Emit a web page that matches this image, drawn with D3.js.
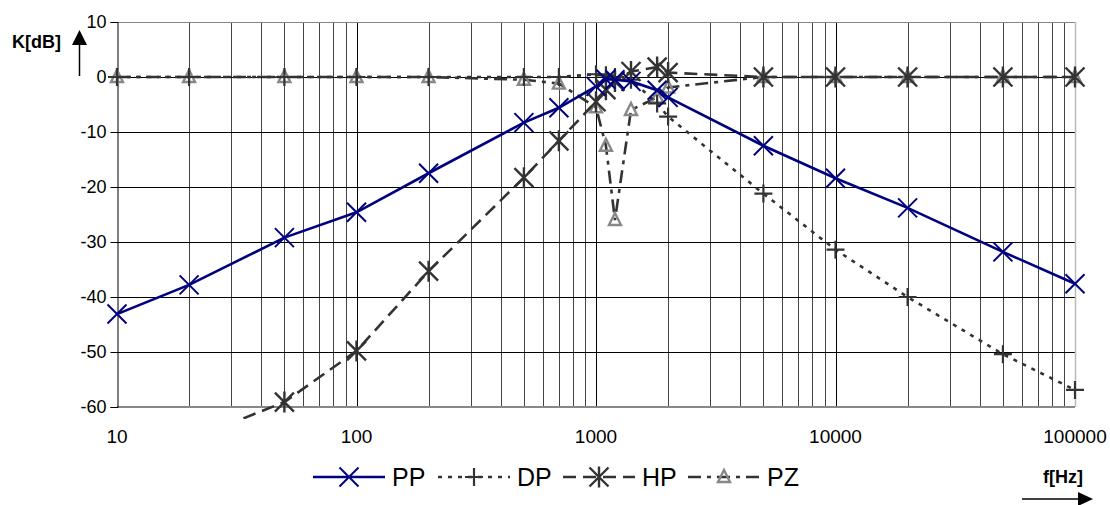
<!DOCTYPE html>
<html>
<head>
<meta charset="utf-8">
<script src="https://cdn.jsdelivr.net/npm/d3@7"></script>
<style>
    body { margin: 0; background: #fff; }
    text { font-family: Arial, "Liberation Sans", sans-serif; }
</style>
</head>
<body>
<div id="chartDiv"></div>
<script>
const freqs = [10, 20, 50, 100, 200, 500, 700, 1000, 1100, 1200, 1400, 1800, 2000, 5000, 10000, 20000, 50000, 100000];
const PP = [-43.1, -37.8, -29.2, -24.6, -17.5, -8.3, -5.6, -1.7, -0.4, -0.5, -0.8, -2.4, -3.7, -12.5, -18.4, -23.8, -31.8, -37.6];
const DP = [0, 0, 0, 0, 0, 0, 0, 0.5, 0.3, 0, -0.5, -4.8, -7.2, -21.2, -31.4, -40, -50.4, -56.9];
const HP = [-79, -66, -59.1, -49.8, -35.3, -18.3, -11.6, -4.5, -2.3, -0.8, 1.0, 1.8, 0.8, 0, 0, 0, 0, 0];
const PZ = [0, 0, 0, 0, 0, -0.5, -1.2, -5.5, -12.5, -26, -6, -3.7, -1.9, 0, 0, 0, 0, 0];
const seriesNames = ["PP", "DP", "HP", "PZ"];
const xTicks = [10, 100, 1000, 10000, 100000];
const yTicks = [10, 0, -10, -20, -30, -40, -50, -60];

const width = 1110, height = 505;
const margin = {top: 22, right: 35, bottom: 98, left: 117};

const svg = d3.select("#chartDiv").append("svg")
    .attr("width", width)
    .attr("height", height);

const x = d3.scaleLog()
    .domain([10, 100000])
    .range([margin.left, width - margin.right]);

const y = d3.scaleLinear()
    .domain([-60, 10])
    .range([height - margin.bottom, margin.top]);

const x0 = x.range()[0], x1 = x.range()[1];
const yTop = y(10), yBot = y(-60);

// minor + major vertical grid
let minor = [];
for (let d = 10; d < 100000; d *= 10) {
    for (let k = 2; k < 10; k++) minor.push(d * k);
}
svg.append("g").selectAll("line")
    .data(minor)
    .enter().append("line")
    .attr("x1", d => Math.round(x(d)) + 0.5).attr("x2", d => Math.round(x(d)) + 0.5)
    .attr("y1", yTop).attr("y2", yBot)
    .attr("stroke", "#444").attr("stroke-width", 1);

svg.append("g").selectAll("line")
    .data(xTicks.slice(1, -1))
    .enter().append("line")
    .attr("x1", d => Math.round(x(d)) + 0.5).attr("x2", d => Math.round(x(d)) + 0.5)
    .attr("y1", yTop).attr("y2", yBot)
    .attr("stroke", "#000").attr("stroke-width", 1);

// horizontal grid
svg.append("g").selectAll("line")
    .data(yTicks.filter(d => d !== 10 && d !== -60))
    .enter().append("line")
    .attr("x1", x0).attr("x2", x1)
    .attr("y1", d => Math.round(y(d)) + 0.5).attr("y2", d => Math.round(y(d)) + 0.5)
    .attr("stroke", "#000").attr("stroke-width", 1);

// frame
svg.append("line").attr("x1", x0).attr("x2", x1).attr("y1", yTop + 0.5).attr("y2", yTop + 0.5)
    .attr("stroke", "#888").attr("stroke-width", 1);
svg.append("line").attr("x1", x1 + 0.5).attr("x2", x1 + 0.5).attr("y1", yTop).attr("y2", yBot)
    .attr("stroke", "#bbb").attr("stroke-width", 1.5);
svg.append("line").attr("x1", x0).attr("x2", x1).attr("y1", yBot).attr("y2", yBot)
    .attr("stroke", "#888").attr("stroke-width", 2);

// y axis
const yAxis = d3.axisLeft(y)
    .tickValues(yTicks)
    .tickSize(7)
    .tickPadding(4)
    .tickFormat(d => String(d));

const gy = svg.append("g")
    .attr("transform", `translate(${x0 + 0.5},0)`)
    .call(yAxis);
gy.select(".domain").attr("stroke", "#000").attr("stroke-width", 1);
gy.selectAll(".tick line").attr("stroke", "#000");
gy.selectAll(".tick text").attr("font-size", 18).attr("fill", "#000")
    .attr("font-family", "Arial, 'Liberation Sans', sans-serif");

// x axis labels
svg.append("g").selectAll("text")
    .data(xTicks)
    .enter().append("text")
    .attr("x", d => x(d))
    .attr("y", yBot + 36)
    .attr("text-anchor", "middle")
    .attr("font-size", 19)
    .text(d => d);

// series
const data = {
    PP: PP,
    DP: DP,
    HP: HP,
    PZ: PZ
};
const styles = {
    PP: {color: "#000080", dash: null, marker: "x", mcolor: "#000080"},
    DP: {color: "#333", dash: "4,6", marker: "plus", mcolor: "#333"},
    HP: {color: "#333", dash: "13,7", marker: "star", mcolor: "#333"},
    PZ: {color: "#333", dash: "13,6,4,6", marker: "tri", mcolor: "#888"}
};

svg.append("clipPath").attr("id", "plotClip")
    .append("rect")
    .attr("x", x0).attr("y", yTop - 10)
    .attr("width", x1 - x0 + 10).attr("height", yBot - yTop + 22);

const line = d3.line()
    .x(d => x(d[0]))
    .y(d => y(d[1]));

function drawMarker(g, type, cx, cy, color) {
    if (type === "x") {
        const r = 9.5;
        g.append("path")
            .attr("d", `M${cx - r},${cy - r}L${cx + r},${cy + r}M${cx - r},${cy + r}L${cx + r},${cy - r}`)
            .attr("stroke", color).attr("stroke-width", 2).attr("fill", "none");
    } else if (type === "plus") {
        const r = 9;
        g.append("path")
            .attr("d", `M${cx - r},${cy}L${cx + r},${cy}M${cx},${cy - r}L${cx},${cy + r}`)
            .attr("stroke", color).attr("stroke-width", 2.2).attr("fill", "none");
    } else if (type === "star") {
        const r = 9.5;
        g.append("path")
            .attr("d", `M${cx - r},${cy - r}L${cx + r},${cy + r}M${cx - r},${cy + r}L${cx + r},${cy - r}M${cx},${cy - r - 1}L${cx},${cy + r + 1}`)
            .attr("stroke", color).attr("stroke-width", 2.4).attr("fill", "none");
    } else if (type === "tri") {
        const r = 6;
        g.append("path")
            .attr("d", `M${cx},${cy - r - 1}L${cx + r},${cy + r - 1}L${cx - r},${cy + r - 1}Z`)
            .attr("stroke", color).attr("stroke-width", 2.4).attr("fill", "none");
    }
}

// draw back-to-front
["PZ", "HP", "DP", "PP"].forEach(name => {
    const st = styles[name];
    const pts = freqs.map((f, i) => [f, data[name][i]]);
    svg.append("path")
        .datum(pts)
        .attr("clip-path", "url(#plotClip)")
        .attr("fill", "none")
        .attr("stroke", st.color)
        .attr("stroke-width", 2.6)
        .attr("stroke-dasharray", st.dash)
        .attr("d", line);
    const mg = svg.append("g");
    pts.filter(p => p[1] >= -61).forEach(p => drawMarker(mg, st.marker, x(p[0]), y(p[1]), st.mcolor));
});

// legend
const legendY = 477;
const legendX = [313, 438, 563, 688];
seriesNames.forEach((name, i) => {
    const st = styles[name];
    const lx = legendX[i];
    const g = svg.append("g");
    g.append("line")
        .attr("x1", lx).attr("x2", lx + 72)
        .attr("y1", legendY).attr("y2", legendY)
        .attr("stroke", st.color).attr("stroke-width", 2.6)
        .attr("stroke-dasharray", st.dash);
    drawMarker(g, st.marker, lx + 36, legendY, st.mcolor);
    g.append("text")
        .attr("x", lx + 79)
        .attr("y", legendY + 9)
        .attr("font-size", 25)
        .text(name);
});

// axis titles with arrows
svg.append("text")
    .attr("x", 12).attr("y", 48)
    .attr("font-size", 18).attr("font-weight", "bold")
    .text("K[dB]");
svg.append("line").attr("x1", 79.5).attr("x2", 79.5).attr("y1", 76).attr("y2", 40)
    .attr("stroke", "#000").attr("stroke-width", 1.5);
svg.append("path").attr("d", "M72,45L79.5,30L87,45Z").attr("fill", "#000");

svg.append("text")
    .attr("x", 1063).attr("y", 483)
    .attr("text-anchor", "middle")
    .attr("font-size", 18).attr("font-weight", "bold")
    .text("f[Hz]");
svg.append("line").attr("x1", 1022).attr("x2", 1082).attr("y1", 499).attr("y2", 499)
    .attr("stroke", "#000").attr("stroke-width", 1.5);
svg.append("path").attr("d", "M1078,492L1093,499L1078,506Z").attr("fill", "#000");
</script>
</body>
</html>
